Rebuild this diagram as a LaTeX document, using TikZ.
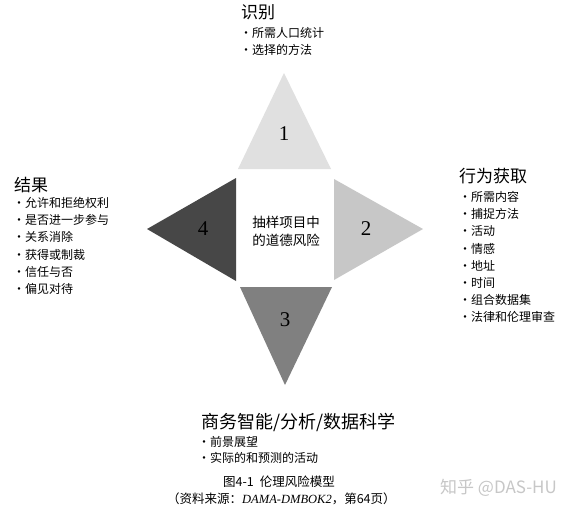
\documentclass[tikz,border=0pt]{standalone}
\usepackage{fontspec}
\setmainfont{Liberation Serif}
\newfontfamily\cjk{Noto Sans CJK SC}
\usetikzlibrary{chains,positioning}

\begin{document}
\begin{tikzpicture}[x=1pt,y=-1pt,
    head/.style={inner sep=0pt,anchor=west,font=\cjk\fontsize{17}{17}\selectfont},
    item/.style={inner sep=0pt,text width=125pt,align=left,text height=10pt,text depth=2.5pt,
      font=\cjk\fontsize{12}{12}\selectfont},
    num/.style={inner sep=0pt,font=\fontsize{21}{21}\selectfont},
    capt/.style={inner sep=0pt,anchor=west,font=\cjk\fontsize{12.5}{12.5}\selectfont}]
\useasboundingbox[fill=white] (0,0) rectangle (572,512);
\fill[black!12] (284,73) -- (331,169) -- (238,169) -- cycle;
\fill[black!22] (334,179) -- (423,229) -- (334,280) -- cycle;
\fill[black!50] (240,287) -- (332,287) -- (285,385) -- cycle;
\fill[black!72] (236,178) -- (147,229) -- (236,281) -- cycle;
\path node[num] (n1) at (284,134) {1}
  node[num] (n2) at (366,229) {2}
  node[num] (n3) at (285,320) {3}
  node[num] (n4) at (203,229) {4}
  node[align=center,font=\cjk\fontsize{13.5}{18}\selectfont] (core) at (286,231) {抽样项目中\\的道德风险};
\path node[head] (idHead) at (241,12) {识别};
\path[start chain=ID going below,node distance=4.2pt,nodes={on chain,item}]
    (240,34) node[anchor=west]{•所需人口统计}
    node{•选择的方法};
\path node[head] (resHead) at (14,185) {结果};
\path[start chain=RES going below,node distance=4.2pt,nodes={on chain,item}]
    (13,204) node[anchor=west]{•允许和拒绝权利}
    node{•是否进一步参与}
    node{•关系消除}
    node{•获得或制裁}
    node{•信任与否}
    node{•偏见对待};
\path node[head] (actHead) at (459,176) {行为获取};
\path[start chain=ACT going below,node distance=4.2pt,nodes={on chain,item}]
    (459,198) node[anchor=west]{•所需内容}
    node{•捕捉方法}
    node{•活动}
    node{•情感}
    node{•地址}
    node{•时间}
    node{•组合数据集}
    node{•法律和伦理审查};
\path node[head,font=\cjk\fontsize{18}{18}\selectfont] (biHead) at (201,422) {商务智能/分析/数据科学};
\path[start chain=BI going below,node distance=3pt,nodes={on chain,item}]
    (198,443) node[anchor=west]{•前景展望}
    node{•实际的和预测的活动};
\path node[capt] (cap) at (223,482) {图4-1\hspace{6pt}伦理风险模型}
  node[capt] (src) at (167,499) {（资料来源：{\normalfont\itshape DAMA-DMBOK2}，第64页）}
  node[capt,text=black!22,font=\cjk\fontsize{17}{17}\selectfont] (mark) at (440,488) {知乎 @DAS-HU};
\end{tikzpicture}
\end{document}
